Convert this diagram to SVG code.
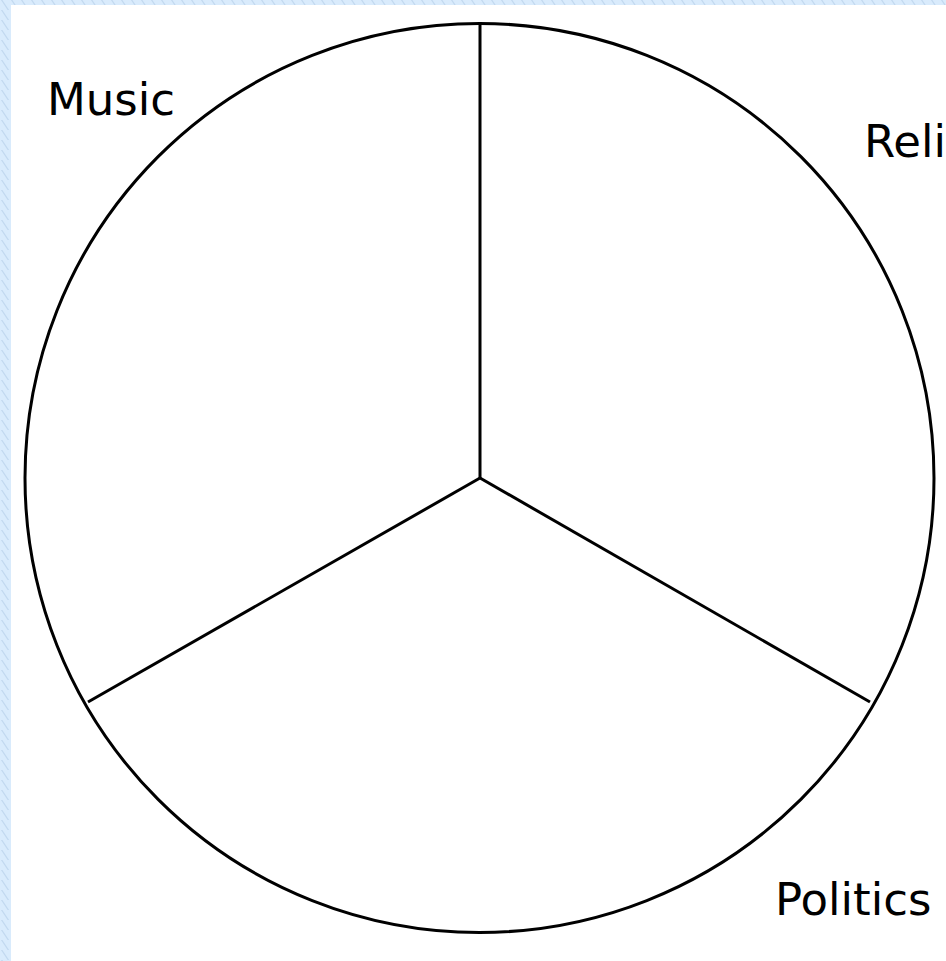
<svg xmlns="http://www.w3.org/2000/svg" width="946" height="961" viewBox="0 0 946 961">
<defs>
<pattern id="bg" width="10" height="10" patternUnits="userSpaceOnUse">
<rect width="10" height="10" fill="#d9ebfc"/>
<path d="M-5,-10 L15,20 M5,-10 L25,20 M-15,-10 L5,20" stroke="#c2d9f0" stroke-width="1.2"/>
</pattern>
<style>
.ln{stroke:#000;stroke-width:3;fill:none}
.lbl{font-family:"DejaVu Sans",sans-serif;font-size:45px;fill:#000}
</style>
</defs>
<rect width="946" height="961" fill="url(#bg)"/>
<rect x="11" y="5" width="935" height="956" fill="#fff"/>
<g id="circle"><circle cx="479.5" cy="478" r="454.5" class="ln"/></g>
<g id="connectors">
<line x1="480" y1="478" x2="480" y2="24" class="ln"/>
<line x1="480" y1="478" x2="870" y2="702" class="ln"/>
<line x1="480" y1="478" x2="88" y2="702" class="ln"/>
</g>
<g id="music"><text x="47" y="115" class="lbl">Music</text></g>
<g id="religion"><text x="864" y="157" class="lbl">Religion</text></g>
<g id="politics"><text x="775" y="915" class="lbl">Politics</text></g>
</svg>
